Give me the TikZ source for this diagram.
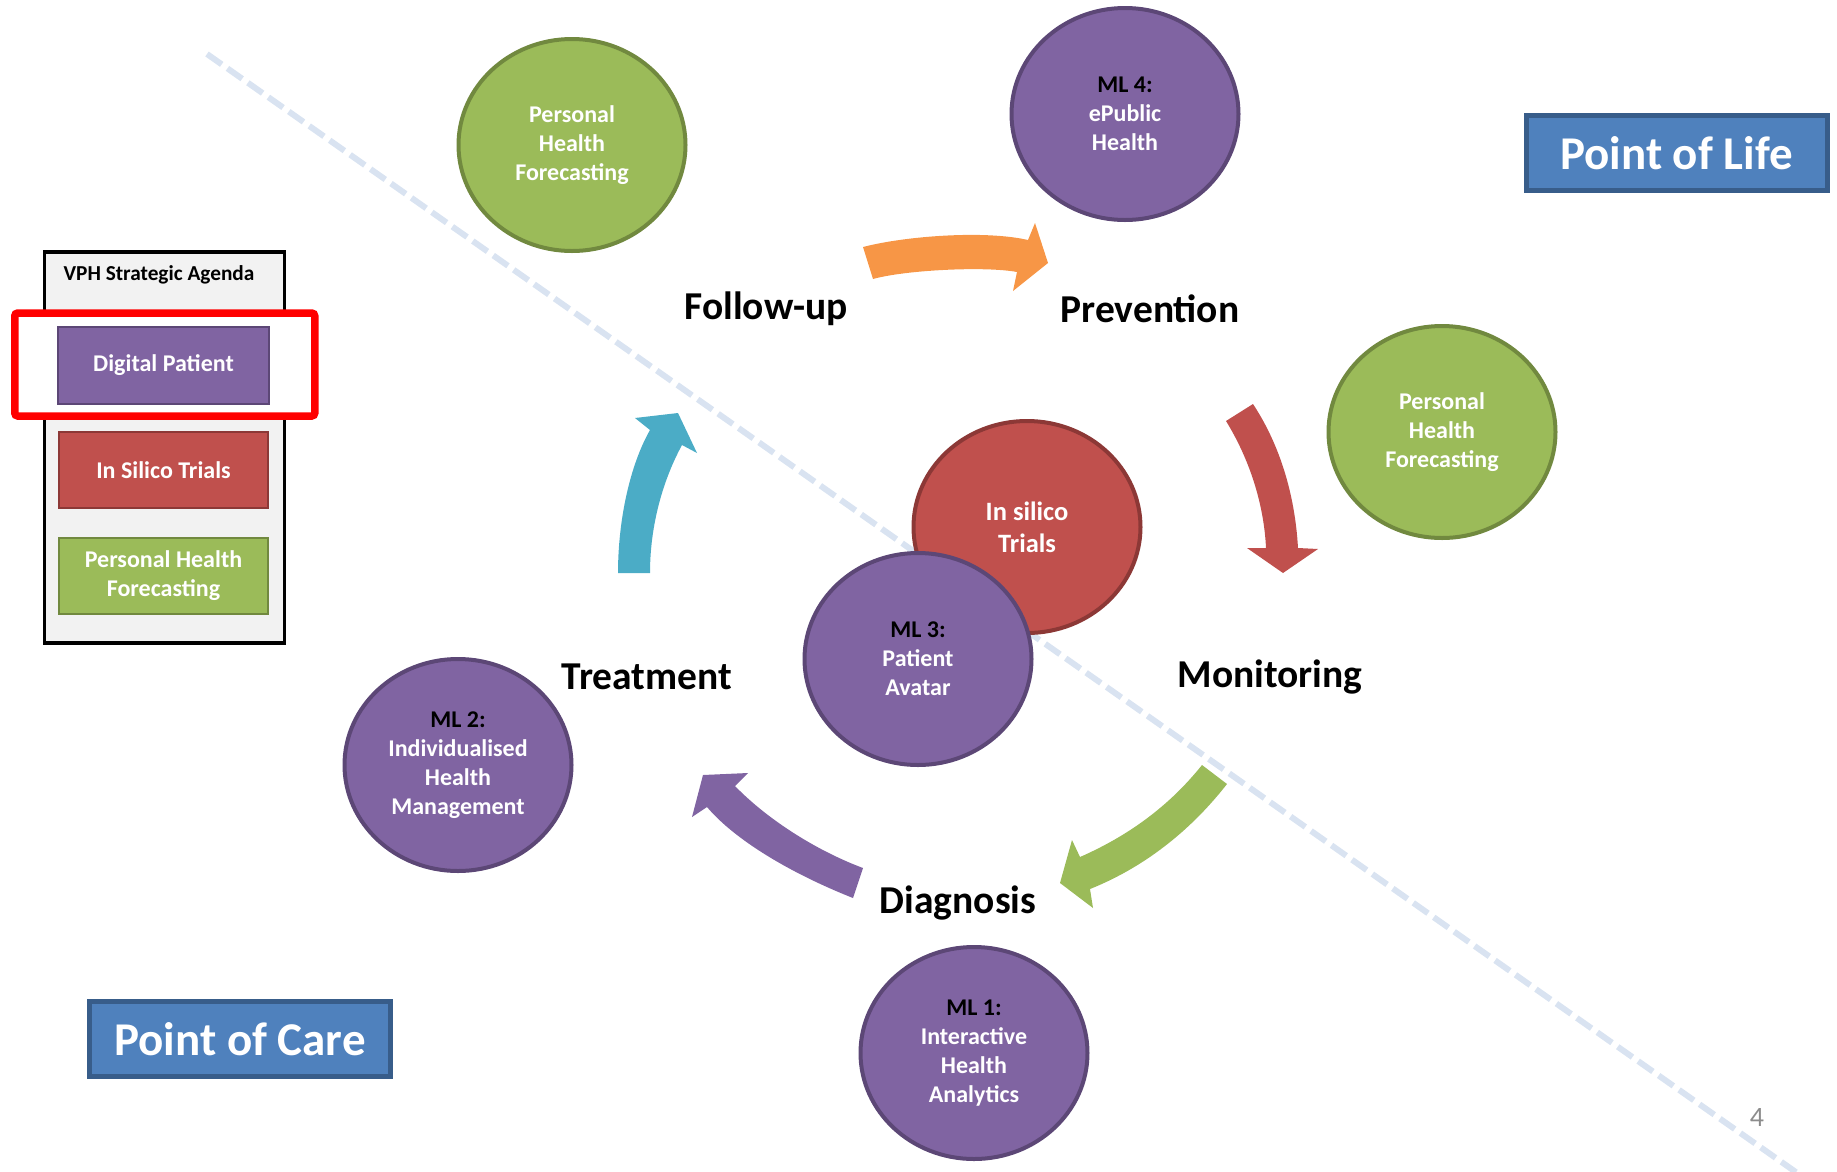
\documentclass[tikz,border=0pt]{standalone}
\usepackage{fontspec}
\setmainfont{Carlito}
\usetikzlibrary{shapes.geometric}
\definecolor{purp}{HTML}{8064A2}
\definecolor{purpd}{HTML}{5C4776}
\definecolor{grn}{HTML}{9BBB59}
\definecolor{grnd}{HTML}{71893F}
\definecolor{rd}{HTML}{C0504D}
\definecolor{rdd}{HTML}{8C3836}
\definecolor{org}{HTML}{F79646}
\definecolor{aqua}{HTML}{4BACC6}
\definecolor{blu}{HTML}{4F81BD}
\definecolor{blud}{HTML}{385D8A}
\definecolor{dashc}{HTML}{D9E3F1}
\definecolor{lgray}{HTML}{F2F2F2}
\definecolor{numgray}{HTML}{8C8C8C}
\begin{document}
\begin{tikzpicture}[x=1pt,y=-1pt,
  bubble/.style={ellipse, minimum width=227pt, minimum height=212pt, inner sep=0pt,
     line width=4pt, align=center, text=white, font=\bfseries\fontsize{24}{29}\selectfont},
  pbubble/.style={bubble, fill=purp, draw=purpd},
  gbubble/.style={bubble, fill=grn, draw=grnd},
  rbubble/.style={bubble, fill=rd, draw=rdd, font=\bfseries\fontsize{26.5}{32}\selectfont},
  phase/.style={font=\bfseries\fontsize{39.5}{46}\selectfont, text=black, inner sep=0pt},
  legbox/.style={minimum width=209pt, minimum height=75pt, inner sep=0pt, line width=1.5pt,
     text=white, align=center, font=\bfseries\fontsize{24}{29}\selectfont},
  pointbox/.style={fill=blu, draw=blud, line width=5pt, minimum width=301pt, minimum height=75pt,
     inner sep=0pt, text=white, font=\bfseries\fontsize{47}{52}\selectfont}
]
\useasboundingbox (0,0) rectangle (1837,1171);

% dashed divider
\coordinate (dl1) at (207,54);
\coordinate (dl2) at (1800,1175);
\draw[dashc, line width=6pt, dash pattern=on 18pt off 7pt] (dl1) -- (dl2);

% bubbles
\node[gbubble] (phf1) at (572,145) {Personal\\Health\\Forecasting};
\node[pbubble] (ml4) at (1125,114) {{\color{black}ML 4:}\\ePublic\\Health};
\node[gbubble] (phf2) at (1442,432) {Personal\\Health\\Forecasting};
\node[rbubble] (ist) at (1027,527) {In silico\\Trials};
\node[pbubble] (ml3) at (918,659) {{\color{black}ML 3:}\\Patient\\Avatar};
\node[pbubble] (ml2) at (458,765) {{\color{black}ML 2:}\\Individualised\\Health\\Management};
\node[pbubble] (ml1) at (974,1053) {{\color{black}ML 1:}\\Interactive\\Health\\Analytics};

% curved block arrows
\fill[org] (863,247) .. controls (905,236) and (985,230) .. (1028,240) -- (1035,223) -- (1048,263)
  -- (1013,291) -- (1017,272) .. controls (985,266) and (905,270) .. (873,279) -- cycle;
\fill[rd] (1226,421) .. controls (1250,460) and (1264,505) .. (1266,548) -- (1247,548) -- (1283,573)
  -- (1318,549) -- (1298,548) .. controls (1295,495) and (1280,445) .. (1253,404) -- cycle;
\fill[grn] (1202,765) .. controls (1170,805) and (1130,835) .. (1080,857) -- (1072,840) -- (1060,883)
  -- (1093,908) -- (1090,889) .. controls (1150,865) and (1195,825) .. (1227,784) -- cycle;
\fill[purp] (863,868) .. controls (820,852) and (770,822) .. (735,786) -- (748,773) -- (703,775)
  -- (692,817) -- (707,807) .. controls (735,840) and (790,873) .. (853,898) -- cycle;
\fill[aqua] (618,573) .. controls (618,520) and (630,465) .. (650,430) -- (635,418) -- (678,413)
  -- (697,453) -- (682,445) .. controls (663,480) and (650,525) .. (650,573) -- cycle;

% phase labels
\node[phase] (fu) at (766,309) {Follow-up};
\node[phase] (pv) at (1150,309) {Prevention};
\node[phase] (mo) at (1270,677) {Monitoring};
\node[phase] (tr) at (647,677) {Treatment};
\node[phase] (dg) at (958,903) {Diagnosis};

% legend
\node[draw=black, fill=lgray, line width=3.5pt, minimum width=240pt, minimum height=391pt, inner sep=0pt]
  (legend) at (164.5,447.5) {};
\node[font=\bfseries\fontsize{21.3}{25}\selectfont, inner sep=0pt] (legtitle) at (159,275) {VPH Strategic Agenda};
\node[draw=red, fill=white, line width=7.5pt, rounded corners=3pt, minimum width=300pt, minimum height=103pt,
  inner sep=0pt] (hl) at (164.75,364.5) {};
\node[legbox, fill=purp, draw=purpd, minimum width=211pt, minimum height=77pt] (lgdp) at (163.5,365.5) {Digital Patient};
\node[legbox, fill=rd, draw=rdd, minimum height=76pt] (lgist) at (163.5,470) {In Silico Trials};
\node[legbox, fill=grn, draw=grnd, minimum height=76pt] (lgphf) at (163.5,576) {Personal Health\\Forecasting};

% point boxes
\node[pointbox] (pol) at (1676.5,153) {Point of Life};
\node[pointbox] (poc) at (240,1039) {Point of Care};

% page number
\node[text=numgray, font=\fontsize{28}{32}\selectfont, inner sep=0pt] (pg) at (1757,1117) {4};
\end{tikzpicture}
\end{document}
